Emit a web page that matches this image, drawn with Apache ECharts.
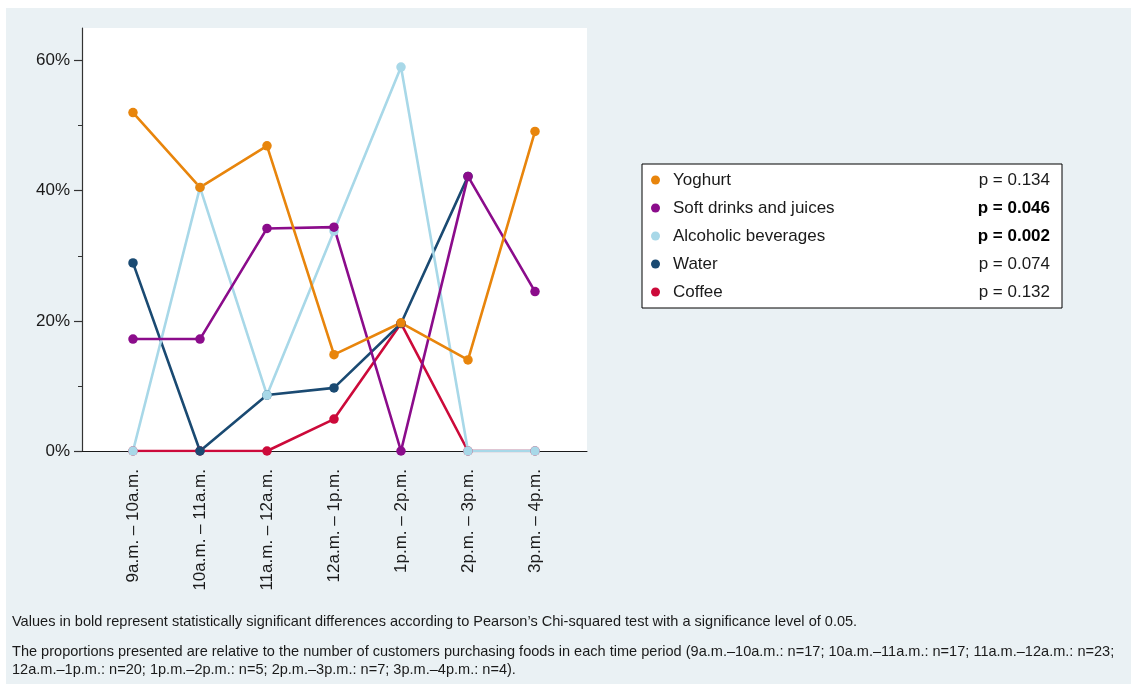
<!DOCTYPE html>
<html>
<head>
<meta charset="utf-8">
<script src="https://cdn.jsdelivr.net/npm/echarts@6/dist/echarts.min.js"></script>
<style>
  html, body { margin: 0; padding: 0; background: #ffffff; }
  #panel { position: absolute; left: 6px; top: 8px; width: 1125px; height: 676px; background: #eaf1f4; }
  #chart { position: absolute; left: 0; top: 0; width: 1131px; height: 684px; }
</style>
</head>
<body>
<div id="panel"></div>
<div id="chart"></div>
<script>
// Time periods along the x axis
const periods = ['9a.m. – 10a.m.', '10a.m. – 11a.m.', '11a.m. – 12a.m.', '12a.m. – 1p.m.', '1p.m. – 2p.m.', '2p.m. – 3p.m.', '3p.m. – 4p.m.'];

// Share of customers (%) purchasing each product per time period
const yoghurt     = [52.0, 40.5, 46.9, 14.8, 19.7, 14.0, 49.1];
const softDrinks  = [17.2, 17.2, 34.2, 34.4, 0.0, 42.2, 24.5];
const alcoholic   = [0.0, 40.5, 8.6, 33.8, 59.0, 0.0, 0.0];
const water       = [28.9, 0.0, 8.6, 9.7, 19.6, 42.2, null];
const coffee      = [0.0, 0.0, 0.0, 4.9, 19.6, 0.0, 0.0];

// Chi-squared p-values shown in the legend
const seriesNames = ['Yoghurt', 'Soft drinks and juices', 'Alcoholic beverages', 'Water', 'Coffee'];
const pValues     = ['0.134', '0.046', '0.002', '0.074', '0.132'];
const significant = [false, true, true, false, false];

const yTicks = [0, 20, 40, 60];
const yMinorTicks = [10, 30, 50];

const colors = {
  'Yoghurt': '#e8850c',
  'Soft drinks and juices': '#8b0c8b',
  'Alcoholic beverages': '#a8d8e8',
  'Water': '#1a4a72',
  'Coffee': '#cc0a3a'
};
const values = {
  'Yoghurt': yoghurt,
  'Soft drinks and juices': softDrinks,
  'Alcoholic beverages': alcoholic,
  'Water': water,
  'Coffee': coffee
};

const FONT = '"Liberation Sans", Arial, sans-serif';
const chart = echarts.init(document.getElementById('chart'), null, { renderer: 'canvas' });

// Coffee is drawn first so that Yoghurt ends up on top
const drawOrder = seriesNames.slice().reverse();
const series = drawOrder.map(name => ({
  name: name,
  type: 'line',
  data: values[name].map((v, i) => [i, v]),
  symbol: 'circle',
  symbolSize: 9.5,
  color: colors[name],
  lineStyle: { width: 2.6, color: colors[name] },
  itemStyle: { color: colors[name] },
  connectNulls: false,
  silent: true
}));

const rich = {
  s: { width: 8 },
  n: { width: 250, fontSize: 17, fontFamily: FONT, color: '#1a1a1a' },
  p: { width: 127, align: 'right', fontSize: 17, fontFamily: FONT, color: '#1a1a1a' },
  b: { width: 127, align: 'right', fontSize: 17, fontFamily: FONT, color: '#000', fontWeight: 'bold' }
};

const NOTE_FONT = '15px "Liberation Sans", Arial, sans-serif';

chart.setOption({
  animation: false,
  backgroundColor: 'transparent',
  grid: {
    left: 82, top: 28, width: 505, height: 423,
    show: true, backgroundColor: '#ffffff', borderWidth: 0,
    containLabel: false
  },
  xAxis: {
    type: 'value',
    min: -0.761,
    max: 6.776,
    axisLine: { show: true, onZero: false, lineStyle: { color: '#1a1a1a', width: 1 } },
    axisTick: { show: false },
    splitLine: { show: false },
    axisLabel: {
      customValues: periods.map((_, i) => i),
      formatter: v => periods[Math.round(v)],
      rotate: 90,
      margin: 18,
      fontSize: 17,
      fontFamily: FONT,
      color: '#1a1a1a'
    }
  },
  yAxis: [
    {
      type: 'value',
      min: 0,
      max: 65,
      axisLine: { show: true, onZero: false, lineStyle: { color: '#333', width: 1.2 } },
      axisTick: { show: true, customValues: yTicks, length: 8, lineStyle: { color: '#333', width: 1.2 } },
      splitLine: { show: false },
      axisLabel: {
        customValues: yTicks,
        formatter: '{value}%',
        margin: 12,
        fontSize: 17,
        fontFamily: FONT,
        color: '#1a1a1a'
      }
    },
    {
      type: 'value',
      min: 0,
      max: 65,
      position: 'left',
      axisLine: { show: false, onZero: false },
      axisTick: { show: true, customValues: yMinorTicks, length: 4, lineStyle: { color: '#333', width: 1 } },
      splitLine: { show: false },
      axisLabel: { show: false, customValues: yMinorTicks }
    }
  ],
  legend: {
    data: seriesNames,
    orient: 'vertical',
    left: 642,
    top: 164,
    padding: [7.5, 12, 7.5, 9],
    itemGap: 11,
    itemWidth: 9,
    itemHeight: 9,
    icon: 'circle',
    selectedMode: false,
    backgroundColor: '#ffffff',
    borderColor: '#000000',
    borderWidth: 1,
    borderRadius: 0,
    textStyle: { rich: rich },
    formatter: name => {
      const i = seriesNames.indexOf(name);
      const tag = significant[i] ? 'b' : 'p';
      return '{s|}{n|' + name + '}{' + tag + '|p = ' + pValues[i] + '}';
    }
  },
  graphic: [
    {
      type: 'text', x: 12, y: 614, scaleX: 0.97, silent: true,
      style: {
        text: 'Values in bold represent statistically significant differences according to Pearson’s Chi-squared test with a significance level of 0.05.',
        font: NOTE_FONT,
        fill: '#1a1a1a'
      }
    },
    {
      type: 'text', x: 12, y: 643, scaleX: 0.97, silent: true,
      style: {
        text: 'The proportions presented are relative to the number of customers purchasing foods in each time period (9a.m.–10a.m.: n=17; 10a.m.–11a.m.: n=17; 11a.m.–12a.m.: n=23;\n12a.m.–1p.m.: n=20; 1p.m.–2p.m.: n=5; 2p.m.–3p.m.: n=7; 3p.m.–4p.m.: n=4).',
        font: NOTE_FONT,
        lineHeight: 18,
        fill: '#1a1a1a'
      }
    }
  ],
  series: series
});
</script>
</body>
</html>
